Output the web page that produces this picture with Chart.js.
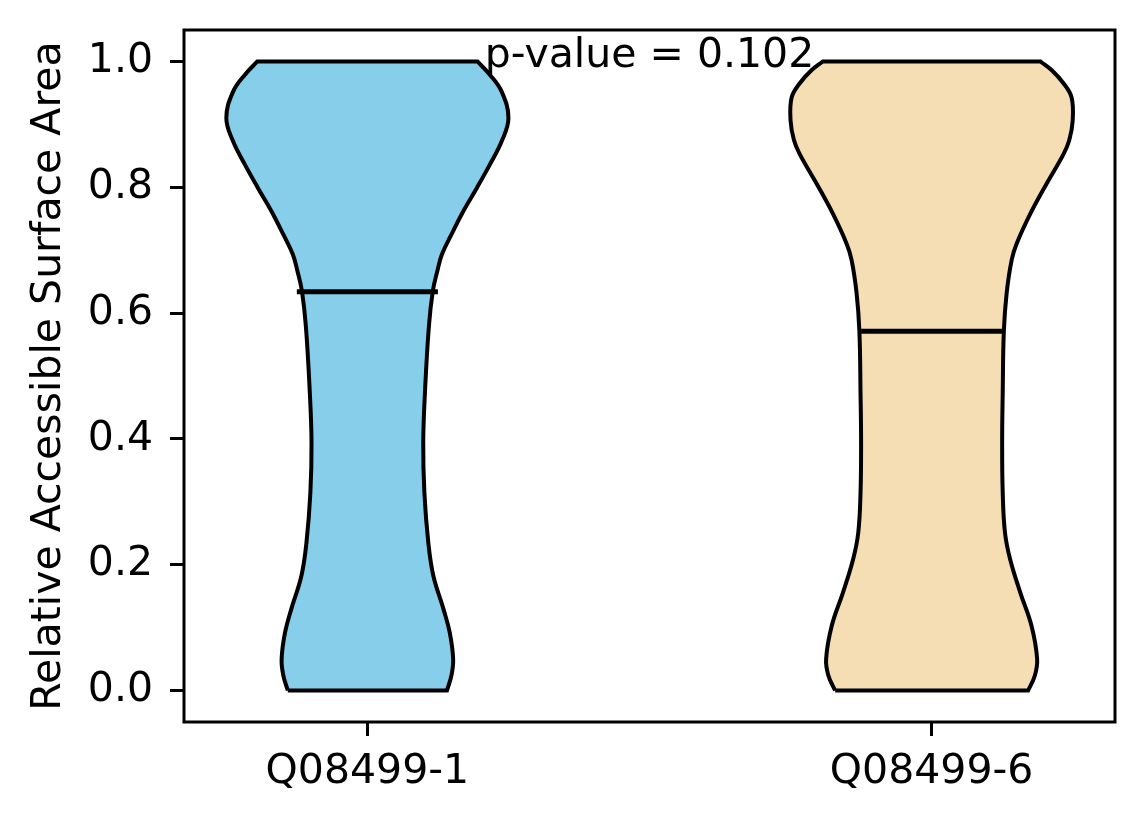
<!DOCTYPE html>
<html>
<head>
<meta charset="utf-8">
<script src="https://cdn.jsdelivr.net/npm/chart.js@4.4.1/dist/chart.umd.min.js"></script>
<style>
  html, body { margin: 0; padding: 0; background: #fff; }
  #wrap { width: 1144px; height: 824px; }
</style>
</head>
<body>
<div id="wrap"><canvas id="violinChart"></canvas></div>
<script>
const categories = ['Q08499-1', 'Q08499-6'];
const positions = [1, 2];
const medians = [0.634, 0.571];
const pValueText = 'p-value = 0.102';
const yTickValues = [0, 0.2, 0.4, 0.6, 0.8, 1.0];

// violin outlines: RSA level -> half width of the density (x units)
const levelsA = [0.000, 0.024, 0.050, 0.092, 0.129, 0.182, 0.235, 0.315, 0.394, 0.473, 0.579, 0.635, 0.667, 0.693, 0.725, 0.762, 0.799, 0.836, 0.873, 0.910, 0.952, 0.979, 1.000];
const halfWidthA = [0.141, 0.149, 0.152, 0.146, 0.135, 0.117, 0.108, 0.101, 0.099, 0.102, 0.109, 0.116, 0.124, 0.132, 0.149, 0.170, 0.194, 0.217, 0.238, 0.250, 0.238, 0.217, 0.195];
const levelsB = [0.000, 0.024, 0.050, 0.103, 0.156, 0.209, 0.251, 0.315, 0.394, 0.473, 0.571, 0.632, 0.685, 0.711, 0.758, 0.806, 0.853, 0.875, 0.906, 0.943, 0.965, 0.986, 1.000];
const halfWidthB = [0.171, 0.183, 0.187, 0.177, 0.157, 0.139, 0.130, 0.126, 0.125, 0.126, 0.128, 0.133, 0.142, 0.151, 0.175, 0.204, 0.234, 0.244, 0.250, 0.248, 0.234, 0.213, 0.193];

const fillColors = ['#87ceeb', '#f5deb3'];
const medianHalfSpan = 0.125;
const FONT = 'DejaVu Sans';

// closed outline: left side up, flat top, right side down, flat bottom
// corners are pushed twice so the spline keeps them sharp
function outline(pos, levels, half) {
  const n = levels.length;
  const pts = [];
  for (let i = 0; i < n; i++) pts.push({x: pos - half[i], y: levels[i]});
  pts.push({x: pos - half[n - 1], y: levels[n - 1]});
  for (let i = n - 1; i >= 0; i--) {
    pts.push({x: pos + half[i], y: levels[i]});
    if (i === n - 1) pts.push({x: pos + half[i], y: levels[i]});
  }
  pts.push({x: pos + half[0], y: levels[0]});
  pts.push({x: pos - half[0], y: levels[0]});
  return pts;
}

const violinData = [outline(positions[0], levelsA, halfWidthA), outline(positions[1], levelsB, halfWidthB)];

const datasets = [];
positions.forEach((p, i) => {
  datasets.push({
    label: categories[i],
    data: violinData[i],
    backgroundColor: fillColors[i],
    borderColor: '#000',
    borderWidth: 4,
    fill: 'shape',
    tension: 0.4,
    pointRadius: 0,
    order: 2
  });
  datasets.push({
    label: categories[i] + ' median',
    data: [{x: p - medianHalfSpan, y: medians[i]}, {x: p + medianHalfSpan, y: medians[i]}],
    borderColor: '#000',
    borderWidth: 5,
    fill: false,
    tension: 0,
    pointRadius: 0,
    order: 1
  });
});

const frame = {
  id: 'frame',
  afterDraw(chart) {
    const {ctx, chartArea: a} = chart;
    ctx.save();
    ctx.strokeStyle = '#000';
    ctx.lineWidth = 3;
    ctx.strokeRect(a.left, a.top, a.right - a.left, a.bottom - a.top);
    ctx.restore();
  }
};

const pValueLabel = {
  id: 'pValueLabel',
  afterDatasetsDraw(chart) {
    const {ctx, scales: {x, y}} = chart;
    ctx.save();
    ctx.font = '41px "' + FONT + '"';
    ctx.fillStyle = '#000';
    ctx.textAlign = 'center';
    ctx.textBaseline = 'alphabetic';
    ctx.fillText(pValueText, x.getPixelForValue(1.5), y.getPixelForValue(0.991));
    ctx.restore();
  }
};

const ctx = document.getElementById('violinChart').getContext('2d');
const chart = new Chart(ctx, {
  type: 'line',
  data: {datasets: datasets},
  options: {
    responsive: true,
    maintainAspectRatio: false,
    animation: false,
    layout: {padding: {left: 0, top: 30, right: 29, bottom: 0}},
    plugins: {
      legend: {display: false},
      tooltip: {enabled: false}
    },
    scales: {
      x: {
        type: 'linear',
        min: 0.675,
        max: 2.325,
        afterBuildTicks: (s) => { s.ticks = positions.map(v => ({value: v})); },
        afterFit: (s) => { s.height = 102; s.paddingLeft = 0; s.paddingRight = 0; },
        ticks: {
          color: '#000',
          font: {family: FONT, size: 41},
          padding: 12,
          maxRotation: 0,
          callback: (v) => categories[positions.indexOf(v)]
        },
        grid: {drawOnChartArea: false, drawTicks: true, tickLength: 14, tickColor: '#000', tickWidth: 3},
        border: {display: false}
      },
      y: {
        type: 'linear',
        min: -0.05,
        max: 1.05,
        afterBuildTicks: (s) => { s.ticks = yTickValues.map(v => ({value: v})); },
        afterFit: (s) => { s.width = 184; s.paddingTop = 0; s.paddingBottom = 0; },
        ticks: {
          color: '#000',
          font: {family: FONT, size: 41},
          padding: 17,
          callback: (v) => v.toFixed(1)
        },
        title: {
          display: true,
          text: 'Relative Accessible Surface Area',
          color: '#000',
          font: {family: FONT, size: 41},
          padding: {top: 25, bottom: 0}
        },
        grid: {drawOnChartArea: false, drawTicks: true, tickLength: 14, tickColor: '#000', tickWidth: 3},
        border: {display: false}
      }
    }
  },
  plugins: [frame, pValueLabel]
});
</script>
</body>
</html>
